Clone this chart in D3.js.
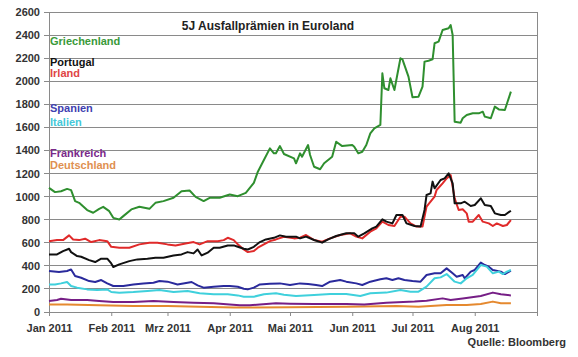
<!DOCTYPE html>
<html><head><meta charset="utf-8">
<script src="https://cdn.jsdelivr.net/npm/d3@7"></script>
<style>
body{margin:0;background:#fff;}
svg{display:block;font-family:"Liberation Sans",Arial,sans-serif;}
</style></head><body>
<svg id="c" width="578" height="357"></svg>
<script>
const monthLabels = ["Jan 2011","Feb 2011","Mrz 2011","Apr 2011","Mai 2011","Jun 2011","Jul 2011","Aug 2011",""];
const yTicks = [0,200,400,600,800,1000,1200,1400,1600,1800,2000,2200,2400,2600];
const seriesNames = ["Griechenland","Portugal","Irland","Spanien","Italien","Frankreich","Deutschland"];
const seriesColors = ["#2f8f2f","#111111","#e02a2a","#2a2a9c","#3fd0dc","#761e86","#e5892f"];
const legendColors = ["#3a9a3a","#111111","#e04545","#4040b0","#45c8d8","#7a2a8a","#e09050"];

const greece = [["01-01",1076],["01-04",1039],["01-07",1047],["01-10",1067],["01-12",1056],["01-14",961],["01-16",946],["01-20",883],["01-23",860],["01-26",894],["01-28",911],["01-31",874],["02-02",816],["02-05",802],["02-07",831],["02-11",889],["02-15",912],["02-20",894],["02-23",946],["02-27",961],["03-04",990],["03-08",1047],["03-12",1053],["03-15",998],["03-19",961],["03-22",990],["03-27",990],["04-01",1018],["04-05",1004],["04-09",1033],["04-13",1119],["04-15",1216],["04-18",1317],["04-21",1418],["04-23",1375],["04-24",1375],["04-26",1438],["04-28",1369],["05-03",1332],["05-04",1289],["05-06",1375],["05-07",1346],["05-10",1447],["05-11",1361],["05-13",1259],["05-16",1237],["05-18",1289],["05-22",1346],["05-24",1476],["05-27",1438],["06-01",1447],["06-02",1432],["06-04",1375],["06-06",1389],["06-08",1447],["06-10",1548],["06-12",1592],["06-15",1621],["06-16",2069],["06-17",1939],["06-19",1924],["06-20",2025],["06-22",1924],["06-25",2199],["06-26",2190],["06-29",2040],["07-01",1861],["07-04",1866],["07-06",1953],["07-07",2170],["07-09",2178],["07-11",2190],["07-12",2329],["07-14",2343],["07-16",2444],["07-19",2459],["07-20",2487],["07-21",2401],["07-22",1649],["07-25",1641],["07-26",1679],["07-28",1707],["07-31",1722],["08-03",1722],["08-05",1736],["08-06",1693],["08-09",1679],["08-11",1780],["08-13",1756],["08-16",1751],["08-19",1910]];

const portugal = [["01-01",499],["01-05",499],["01-08",528],["01-11",548],["01-12",519],["01-15",485],["01-17",479],["01-21",450],["01-24",433],["01-27",462],["01-30",462],["02-01",421],["02-02",390],["02-05",413],["02-10",441],["02-14",456],["02-19",462],["02-23",470],["02-27",470],["03-04",490],["03-08",499],["03-11",519],["03-14",508],["03-16",542],["03-18",490],["03-21",514],["03-24",557],["03-27",557],["03-31",577],["04-03",577],["04-05",565],["04-08",548],["04-10",542],["04-13",565],["04-16",606],["04-19",629],["04-23",643],["04-26",664],["04-29",653],["05-04",653],["05-06",638],["05-09",653],["05-13",624],["05-17",601],["05-20",630],["05-24",659],["05-29",682],["06-02",682],["06-04",653],["06-07",682],["06-11",725],["06-13",740],["06-16",803],["06-18",783],["06-21",768],["06-23",841],["06-26",841],["06-28",768],["07-02",745],["07-05",740],["07-07",884],["07-08",1014],["07-10",1028],["07-11",1130],["07-12",1072],["07-15",1144],["07-17",1158],["07-19",1202],["07-21",1115],["07-22",942],["07-25",942],["07-27",956],["07-30",919],["08-01",927],["08-04",985],["08-06",927],["08-09",919],["08-11",855],["08-14",841],["08-16",841],["08-19",878]];

const irland = [["01-01",614],["01-05",623],["01-08",623],["01-11",664],["01-13",629],["01-16",623],["01-19",635],["01-22",606],["01-26",623],["01-30",614],["02-01",565],["02-05",557],["02-10",557],["02-15",586],["02-20",600],["02-24",600],["03-01",586],["03-05",577],["03-10",594],["03-14",606],["03-17",586],["03-21",614],["03-26",614],["03-29",623],["03-31",643],["04-03",623],["04-05",586],["04-08",542],["04-10",519],["04-13",528],["04-15",557],["04-18",586],["04-21",614],["04-24",629],["04-28",652],["05-03",638],["05-06",644],["05-09",667],["05-13",624],["05-17",610],["05-21",638],["05-26",667],["05-31",682],["06-03",653],["06-06",638],["06-10",696],["06-13",725],["06-16",783],["06-19",754],["06-22",745],["06-25",826],["06-27",826],["06-30",768],["07-03",740],["07-06",740],["07-08",913],["07-12",1000],["07-13",1057],["07-16",1115],["07-18",1158],["07-20",1187],["07-22",985],["07-24",884],["07-26",890],["07-28",855],["07-29",783],["07-31",783],["08-03",841],["08-05",783],["08-08",768],["08-10",745],["08-12",768],["08-15",745],["08-17",754],["08-19",797]];

const spanien = [["01-01",355],["01-06",346],["01-10",355],["01-12",369],["01-14",312],["01-17",297],["01-21",268],["01-24",260],["01-27",277],["01-30",248],["02-02",225],["02-07",225],["02-12",239],["02-17",248],["02-22",254],["02-25",268],["03-01",263],["03-06",239],["03-11",254],["03-13",260],["03-16",231],["03-19",211],["03-24",219],["03-29",225],["04-01",225],["04-05",219],["04-08",202],["04-10",196],["04-13",211],["04-16",239],["04-21",245],["04-26",248],["05-01",234],["05-06",248],["05-10",243],["05-14",234],["05-17",225],["05-21",263],["05-26",277],["05-29",263],["06-03",248],["06-06",234],["06-10",263],["06-15",283],["06-18",292],["06-21",277],["06-24",292],["06-27",277],["07-01",269],["07-05",263],["07-08",321],["07-12",335],["07-15",335],["07-18",378],["07-21",335],["07-23",306],["07-26",321],["07-27",292],["07-30",350],["08-01",364],["08-04",428],["08-06",407],["08-08",393],["08-10",364],["08-14",350],["08-16",329],["08-19",358]];

const italien = [["01-01",239],["01-04",239],["01-07",248],["01-10",260],["01-12",225],["01-15",211],["01-20",196],["01-25",190],["01-30",196],["02-01",173],["02-05",167],["02-12",173],["02-19",182],["02-25",190],["03-04",173],["03-11",182],["03-17",162],["03-24",153],["03-31",153],["04-05",144],["04-08",133],["04-13",133],["04-18",153],["04-24",162],["04-28",150],["05-04",139],["05-13",147],["05-21",156],["05-29",156],["06-05",139],["06-10",162],["06-18",168],["06-25",191],["06-30",176],["07-04",176],["07-08",220],["07-12",292],["07-15",300],["07-18",329],["07-22",263],["07-25",248],["07-28",292],["07-31",321],["08-04",407],["08-07",393],["08-10",335],["08-13",350],["08-15",329],["08-17",350],["08-19",364]];

const frankreich = [["01-01",95],["01-05",104],["01-07",115],["01-12",104],["01-20",104],["01-26",95],["02-02",87],["02-12",87],["02-22",95],["03-04",87],["03-14",81],["03-24",75],["04-01",66],["04-06",58],["04-11",58],["04-16",66],["04-24",75],["05-01",72],["05-13",69],["05-29",69],["06-07",64],["06-18",81],["07-02",90],["07-08",98],["07-16",118],["07-20",104],["07-26",118],["08-04",139],["08-10",168],["08-14",153],["08-19",144]];

const deutschland = [["01-01",66],["01-10",66],["01-26",58],["02-12",52],["03-01",52],["03-17",46],["04-03",38],["04-13",38],["05-01",42],["05-29",46],["06-23",52],["07-04",46],["07-18",61],["07-28",61],["08-04",69],["08-10",90],["08-14",75],["08-19",75]];

const seriesData = [greece, portugal, irland, spanien, italien, frankreich, deutschland];

const parse = d3.timeParse("%Y-%m-%d");
const svg = d3.select("#c");
const L = 49, R = 537, T = 12, B = 312;
const x = d3.scaleTime().domain([new Date(2011,0,1), new Date(2011,8,1)]).range([L, R]);
const y = d3.scaleLinear().domain([0, 2600]).range([B, T]);

// gridlines
svg.append("g").selectAll("line").data(yTicks).join("line")
  .attr("x1", L - 5).attr("x2", R).attr("y1", d => y(d)).attr("y2", d => y(d))
  .attr("stroke", "#8a8a8a").attr("stroke-width", 1).attr("shape-rendering", "crispEdges");
// frame
svg.append("line").attr("x1", L).attr("x2", L).attr("y1", T).attr("y2", B + 4)
  .attr("stroke", "#8a8a8a").attr("shape-rendering", "crispEdges");
svg.append("line").attr("x1", R).attr("x2", R).attr("y1", T).attr("y2", B + 4)
  .attr("stroke", "#8a8a8a").attr("shape-rendering", "crispEdges");

// y labels
svg.append("g").selectAll("text").data(yTicks).join("text")
  .attr("x", 40).attr("y", d => y(d) + 4).attr("text-anchor", "end")
  .attr("font-size", 11).attr("font-weight", "bold").attr("fill", "#333")
  .text(d => d);

// x axis
const months = d3.timeMonth.range(new Date(2011,0,1), new Date(2011,8,2));
const xAxis = d3.axisBottom(x).tickValues(months).tickSize(4).tickPadding(8)
  .tickFormat((d, i) => monthLabels[i]);
const gx = svg.append("g").attr("transform", `translate(0,${B})`).call(xAxis);
gx.select(".domain").attr("stroke", "#8a8a8a");
gx.selectAll(".tick line").attr("stroke", "#8a8a8a");
gx.selectAll(".tick text").attr("font-size", 11).attr("font-weight", "bold")
  .attr("fill", "#333").attr("font-family", "Liberation Sans, Arial, sans-serif");

// lines
const line = d3.line().x(d => x(parse("2011-" + d[0]))).y(d => y(d[1]));
const drawOrder = [6, 5, 3, 4, 2, 1, 0];
svg.append("g").selectAll("path").data(drawOrder).join("path")
  .attr("d", i => line(seriesData[i]))
  .attr("fill", "none").attr("stroke", i => seriesColors[i])
  .attr("stroke-width", 2).attr("stroke-linejoin", "round");

// title
svg.append("text").attr("x", 268).attr("y", 30).attr("text-anchor", "middle")
  .attr("font-size", 12).attr("font-weight", "bold").attr("fill", "#222")
  .text("5J Ausfallprämien in Euroland");

// legend
const legendY = [45, 66, 77, 112, 126, 157, 169];
svg.append("g").selectAll("text").data(seriesNames).join("text")
  .attr("x", 50).attr("y", (d, i) => legendY[i])
  .attr("font-size", 11).attr("font-weight", "bold")
  .attr("fill", (d, i) => legendColors[i]).text(d => d);

// source
svg.append("text").attr("x", 566).attr("y", 346).attr("text-anchor", "end")
  .attr("font-size", 11).attr("font-weight", "bold").attr("fill", "#333")
  .text("Quelle: Bloomberg");
</script>
</body></html>
